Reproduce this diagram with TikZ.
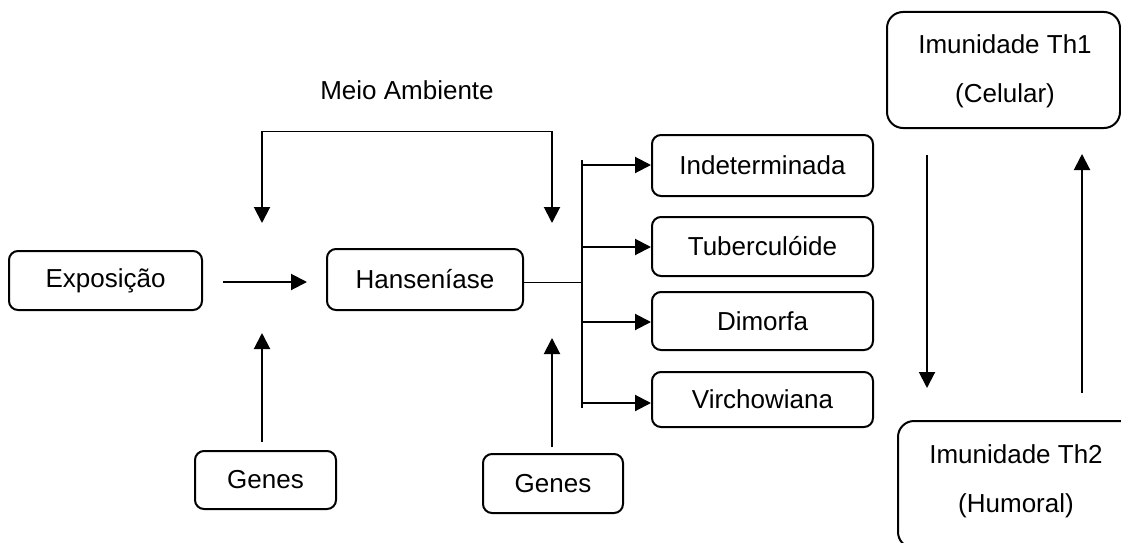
\documentclass[tikz,border=0pt]{standalone}
\usepackage{fontspec}
\setmainfont{Liberation Sans}
\usetikzlibrary{arrows.meta}
\begin{document}
\begin{tikzpicture}[x=1pt,y=-1pt,
  box/.style={draw,line width=2pt,rounded corners=9pt,inner sep=0pt,font=\fontsize{26}{30}\selectfont},
  bigbox/.style={draw,line width=2pt,rounded corners=16pt,inner sep=0pt},
  arr/.style={line width=2pt,-{Triangle[length=16pt,width=16pt]}},
  thin/.style={line width=1pt},
  txt/.style={inner sep=0pt,font=\fontsize{26}{30}\selectfont},
  twoline/.style={inner sep=0pt,align=center,font=\fontsize{26}{49}\selectfont}]
\useasboundingbox (0,0) rectangle (1121,543);
% nodes
\node[box,minimum width=193pt,minimum height=59pt] (exp) at (105.5,280.5) {Exposição};
\node[box,minimum width=196pt,minimum height=61pt] (han) at (425,279.5) {Hanseníase};
\node[box,minimum width=221pt,minimum height=61pt] (ind) at (762.5,165.5) {Indeterminada};
\node[box,minimum width=221pt,minimum height=59pt] (tub) at (762.5,246.5) {Tuberculóide};
\node[box,minimum width=221pt,minimum height=58pt] (dim) at (762.5,321) {Dimorfa};
\node[box,minimum width=221pt,minimum height=55pt] (vir) at (762.5,399.5) {Virchowiana};
\node[box,minimum width=141pt,minimum height=58pt] (gen1) at (265.5,480) {Genes};
\node[box,minimum width=140pt,minimum height=59pt] (gen2) at (553,483.5) {Genes};
\node[bigbox,minimum width=233pt,minimum height=116pt] (th1) at (1003.5,70) {};
\node[twoline] (th1t) at (1005,71) {Imunidade Th1\\(Celular)};
\node[bigbox,minimum width=237pt,minimum height=127pt] (th2) at (1016.5,484.5) {};
\node[twoline] (th2t) at (1016,481) {Imunidade Th2\\(Humoral)};
\node[txt] (meio) at (407,90) {Meio Ambiente};
% coordinates
\coordinate (e1) at (223,282);
\coordinate (e2) at (307,282);
\coordinate (mL) at (262,131);
\coordinate (mR) at (552,131);
\coordinate (mLt) at (262,223);
\coordinate (mRt) at (552,223);
\coordinate (g1a) at (262,442);
\coordinate (g1b) at (262,333);
\coordinate (g2a) at (552,447);
\coordinate (g2b) at (552,338);
\coordinate (barm) at (582,282);
\coordinate (bar1) at (582,165);
\coordinate (bar2) at (582,247);
\coordinate (bar3) at (582,322);
\coordinate (bar4) at (582,403);
\coordinate (bartop) at (582,160);
\coordinate (barbot) at (582,408);
\coordinate (t1a) at (927,155);
\coordinate (t1b) at (927,388);
\coordinate (t2a) at (1082,393);
\coordinate (t2b) at (1082,154);
% connectors
\draw[arr] (e1) -- (e2);
\draw[thin] (mL) -- (mR);
\draw[arr] (mL) -- (mLt);
\draw[arr] (mR) -- (mRt);
\draw[arr] (g1a) -- (g1b);
\draw[arr] (g2a) -- (g2b);
\draw[thin] (han.east |- barm) -- (barm);
\draw[line width=1.5pt] (bartop) -- (barbot);
\draw[arr] (bar1) -- (bar1 -| ind.west);
\draw[arr] (bar2) -- (bar2 -| tub.west);
\draw[arr] (bar3) -- (bar3 -| dim.west);
\draw[arr] (bar4) -- (bar4 -| vir.west);
\draw[arr] (t1a) -- (t1b);
\draw[arr] (t2a) -- (t2b);
\end{tikzpicture}
\end{document}
